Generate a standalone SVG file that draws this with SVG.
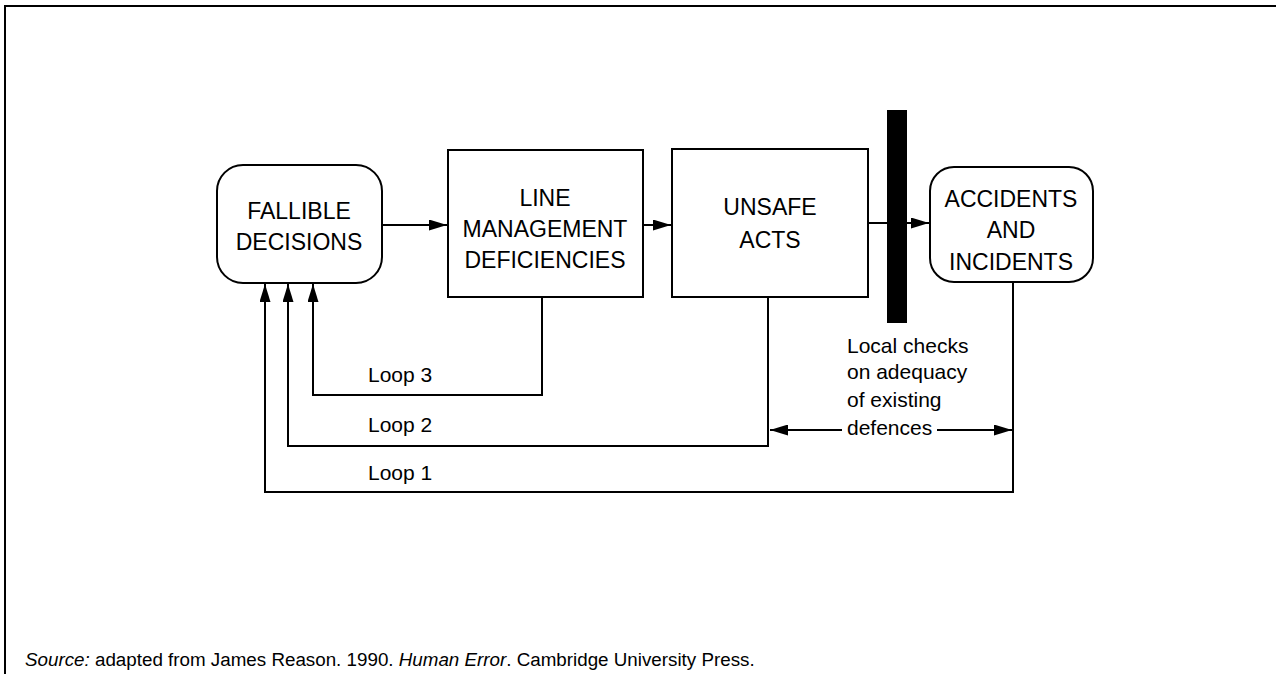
<svg xmlns="http://www.w3.org/2000/svg" width="1279" height="674" viewBox="0 0 1279 674">
<style>
.box{fill:#fff;stroke:#000;stroke-width:2}
.ln{fill:none;stroke:#000;stroke-width:2}
.t{font-family:"Liberation Sans",Arial,sans-serif;font-size:23px;fill:#000;text-anchor:middle}
.lab{font-family:"Liberation Sans",Arial,sans-serif;font-size:21px;fill:#000}
.src{font-family:"Liberation Sans",Arial,sans-serif;font-size:18.8px;fill:#000}
</style>
<defs>
<marker id="ah" viewBox="0 0 18 11" refX="18" refY="5.5" markerWidth="18" markerHeight="11" markerUnits="userSpaceOnUse" orient="auto-start-reverse">
<path d="M0,0 L18,5.5 L0,11 Z" fill="#000"/>
</marker>
</defs>
<rect width="1279" height="674" fill="#fff"/>
<g id="frame"><path class="ln" d="M1276,6 L5,6 L5,674"/></g>
<g id="fallible"><rect class="box" x="217" y="165" width="165" height="118" rx="26"/>
<text class="t" x="299" y="219">FALLIBLE</text><text class="t" x="299" y="250">DECISIONS</text></g>
<g id="line-mgmt"><rect class="box" x="448" y="150" width="195" height="147"/>
<text class="t" x="545" y="206">LINE</text><text class="t" x="545" y="237">MANAGEMENT</text><text class="t" x="545" y="268">DEFICIENCIES</text></g>
<g id="unsafe"><rect class="box" x="672" y="149" width="196" height="148"/>
<text class="t" x="770" y="215">UNSAFE</text><text class="t" x="770" y="248">ACTS</text></g>
<g id="accidents"><rect class="box" x="930" y="167" width="163" height="115" rx="24"/>
<text class="t" x="1011" y="207">ACCIDENTS</text><text class="t" x="1011" y="238">AND</text><text class="t" x="1011" y="270">INCIDENTS</text></g>
<g id="connectors">
<line class="ln" x1="382" y1="225" x2="447" y2="225" marker-end="url(#ah)"/>
<line class="ln" x1="643" y1="225" x2="671" y2="225" marker-end="url(#ah)"/>
<line class="ln" x1="868" y1="223" x2="929" y2="223" marker-end="url(#ah)"/>
<path class="ln" d="M542,297 L542,395 L313,395 L313,284" marker-end="url(#ah)"/>
<path class="ln" d="M768,297 L768,446 L288,446 L288,284" marker-end="url(#ah)"/>
<path class="ln" d="M1013,282 L1013,492 L265,492 L265,284" marker-end="url(#ah)"/>
<line class="ln" x1="842" y1="430" x2="770" y2="430" marker-end="url(#ah)"/>
<line class="ln" x1="937" y1="430" x2="1012" y2="430" marker-end="url(#ah)"/>
</g>
<g id="barrier"><rect x="887" y="110" width="20" height="213" fill="#000"/></g>
<g id="labels">
<text class="lab" x="368" y="382">Loop 3</text>
<text class="lab" x="368" y="432">Loop 2</text>
<text class="lab" x="368" y="480">Loop 1</text>
<text class="lab" x="847" y="353">Local checks</text>
<text class="lab" x="847" y="379">on adequacy</text>
<text class="lab" x="847" y="407">of existing</text>
<text class="lab" x="847" y="435">defences</text>
</g>
<text class="src" x="25" y="666"><tspan font-style="italic">Source:</tspan> adapted from James Reason. 1990. <tspan font-style="italic">Human Error</tspan>. Cambridge University Press.</text>
</svg>
